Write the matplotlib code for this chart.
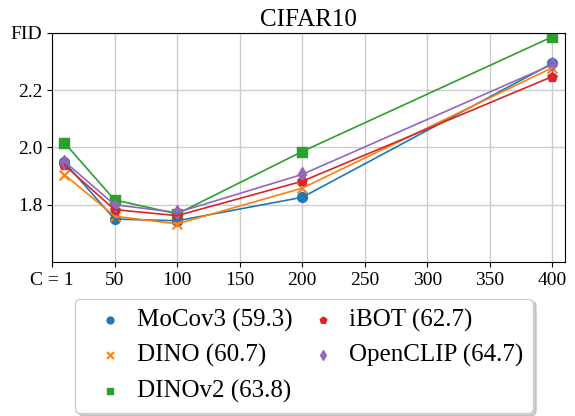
import matplotlib
matplotlib.use("Agg")
import matplotlib.pyplot as plt
import numpy as np

plt.rcParams['font.family'] = ['Liberation Serif', 'DejaVu Serif']

# nombre de classes C (le premier point est affiché "C = 1")
C = [10, 50, 100, 200, 400]

fid_mocov3 = [1.948, 1.750, 1.744, 1.826, 2.294]
fid_dino = [1.905, 1.760, 1.733, 1.858, 2.279]
fid_dinov2 = [2.016, 1.817, 1.768, 1.986, 2.387]
fid_ibot = [1.938, 1.783, 1.762, 1.882, 2.248]
fid_openclip = [1.951, 1.800, 1.773, 1.906, 2.290]

noms = ['MoCov3 (59.3)', 'DINO (60.7)', 'DINOv2 (63.8)', 'iBOT (62.7)', 'OpenCLIP (64.7)']
series = [fid_mocov3, fid_dino, fid_dinov2, fid_ibot, fid_openclip]
marqueurs = ['o', 'x', 's', 'p', 'd']
couleurs = ['tab:blue', 'tab:orange', 'tab:green', 'tab:red', 'tab:purple']

xticks = [0, 50, 100, 150, 200, 250, 300, 350, 400]
xlabels = ['C = 1', '50', '100', '150', '200', '250', '300', '350', '400']
yticks = [1.8, 2.0, 2.2, 2.4]
ylabels = ['1.8', '2.0', '2.2', 'FID']

fig = plt.figure(figsize=(5.75, 4.16), dpi=100)
ax = fig.add_axes([0.0904, 0.3702, 0.8922, 0.5505])

for y, nom, m, c in zip(series, noms, marqueurs, couleurs):
    ax.scatter(C, y, marker=m, color=c, s=50, label=nom)
    ax.plot(C, y, color=c, linewidth=1.2)

ax.set_xlim(0, 410)
ax.set_ylim(1.6, 2.4)
ax.set_xticks(xticks)
ax.set_xticklabels(xlabels)
ax.set_yticks(yticks)
ax.set_yticklabels(ylabels)
ax.tick_params(labelsize=14)
ax.grid(True, color='#cccccc', linewidth=1)
ax.set_axisbelow(True)
ax.set_title('CIFAR10', fontsize=18, pad=5)

ax.legend(loc='upper center', bbox_to_anchor=(0.492, -0.16), ncol=2,
          fontsize=18, shadow={'color': 'gray', 'alpha': 0.35},
          markerscale=0.7, handletextpad=0.06,
          handlelength=2.0, columnspacing=0.2, labelspacing=0.5,
          borderpad=0.4, borderaxespad=0)

fig.savefig('out.png', dpi=100)
